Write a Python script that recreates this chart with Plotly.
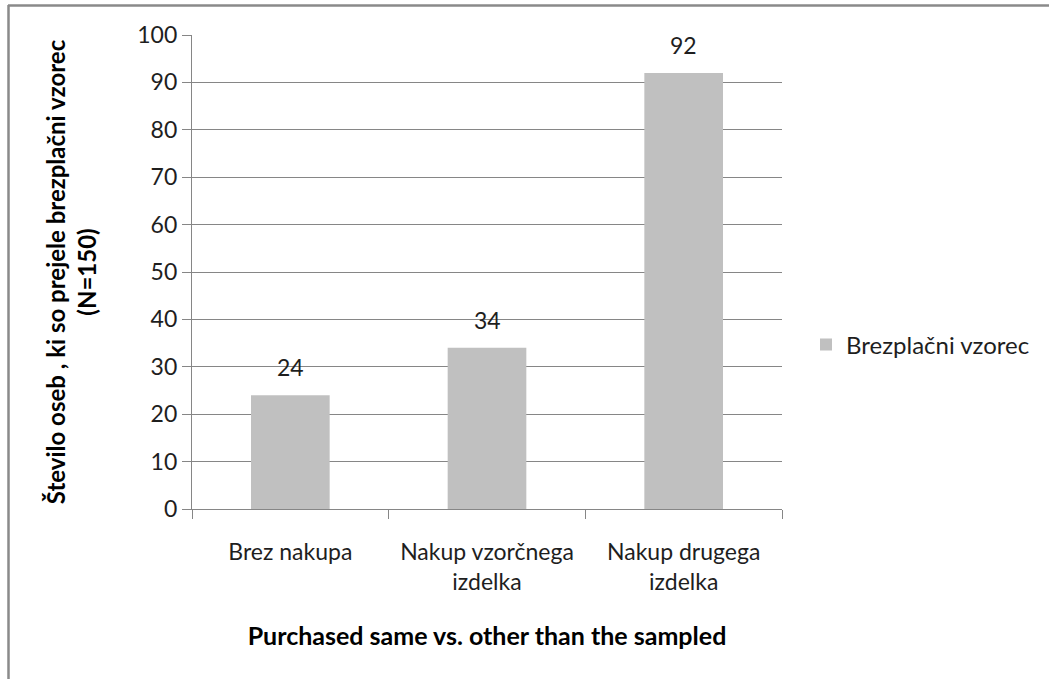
import plotly.graph_objects as go

# Chart data
categories = ["Brez nakupa", "Nakup vzorčnega<br>izdelka", "Nakup drugega<br>izdelka"]
values = [24, 34, 92]
series_name = "Brezplačni vzorec"
y_ticks = [0, 10, 20, 30, 40, 50, 60, 70, 80, 90, 100]

W, H = 1049, 679
L, R, T, B = 192, 267, 35, 170
font_family = "Lato, 'Open Sans', sans-serif"
text_color = "#1e1e1e"
axis_grey = "#868686"
bar_grey = "#c0c0c0"

fig = go.Figure()
fig.add_trace(go.Bar(
    x=categories,
    y=values,
    name=series_name,
    marker=dict(color=bar_grey, line=dict(width=0)),
    showlegend=True,
))

# Value labels above each bar
for cat, val in zip(categories, values):
    fig.add_annotation(
        x=cat, y=val, text=str(val), showarrow=False,
        yanchor="middle", yshift=28,
        font=dict(family=font_family, size=23, color=text_color),
    )

# Convert pixel positions to paper coordinates for the outer frame
pw, ph = W - L - R, H - T - B
def px(xp):
    return (xp - L) / pw
def py(yp):
    return (H - B - yp) / ph

frame = dict(color="#8a8a8a", width=2.5)
fig.add_shape(type="line", xref="paper", yref="paper",
              x0=px(8), x1=px(W + 5), y0=py(5.5), y1=py(5.5), line=frame)
fig.add_shape(type="line", xref="paper", yref="paper",
              x0=px(8.5), x1=px(8.5), y0=py(5), y1=py(H + 5), line=frame)

fig.update_layout(
    width=W, height=H,
    margin=dict(l=L, r=R, t=T, b=B, autoexpand=False),
    paper_bgcolor="white", plot_bgcolor="white",
    bargap=0.6,
    font=dict(family=font_family, size=23, color=text_color),
    legend=dict(
        x=px(806), y=py(345), xanchor="left", yanchor="middle",
        font=dict(family=font_family, size=24, color=text_color),
        bgcolor="rgba(0,0,0,0)",
    ),
    xaxis=dict(
        type="category",
        showline=True, linecolor=axis_grey, linewidth=1.3,
        ticks="outside", tickson="boundaries", ticklen=9,
        tickcolor=axis_grey, tickwidth=1.3,
        ticklabelstandoff=22,
        showgrid=False,
        tickfont=dict(family=font_family, size=23, color=text_color),
        title=dict(
            text="<b>Purchased same vs. other than the sampled</b>",
            font=dict(family=font_family, size=25, color="#000000"),
            standoff=33,
        ),
    ),
    yaxis=dict(
        range=[0, 100], tickvals=y_ticks,
        showline=True, linecolor=axis_grey, linewidth=1.3,
        ticks="outside", ticklen=9, tickcolor=axis_grey, tickwidth=1.3,
        showgrid=True, gridcolor=axis_grey, gridwidth=1.3,
        zeroline=False,
        tickfont=dict(family=font_family, size=23, color=text_color),
        title=dict(
            text="<b>Število oseb , ki so prejele brezplačni vzorec<br>(N=150)</b>",
            font=dict(family=font_family, size=24, color="#000000"),
            standoff=33,
        ),
    ),
)

fig.write_html("out.html")
